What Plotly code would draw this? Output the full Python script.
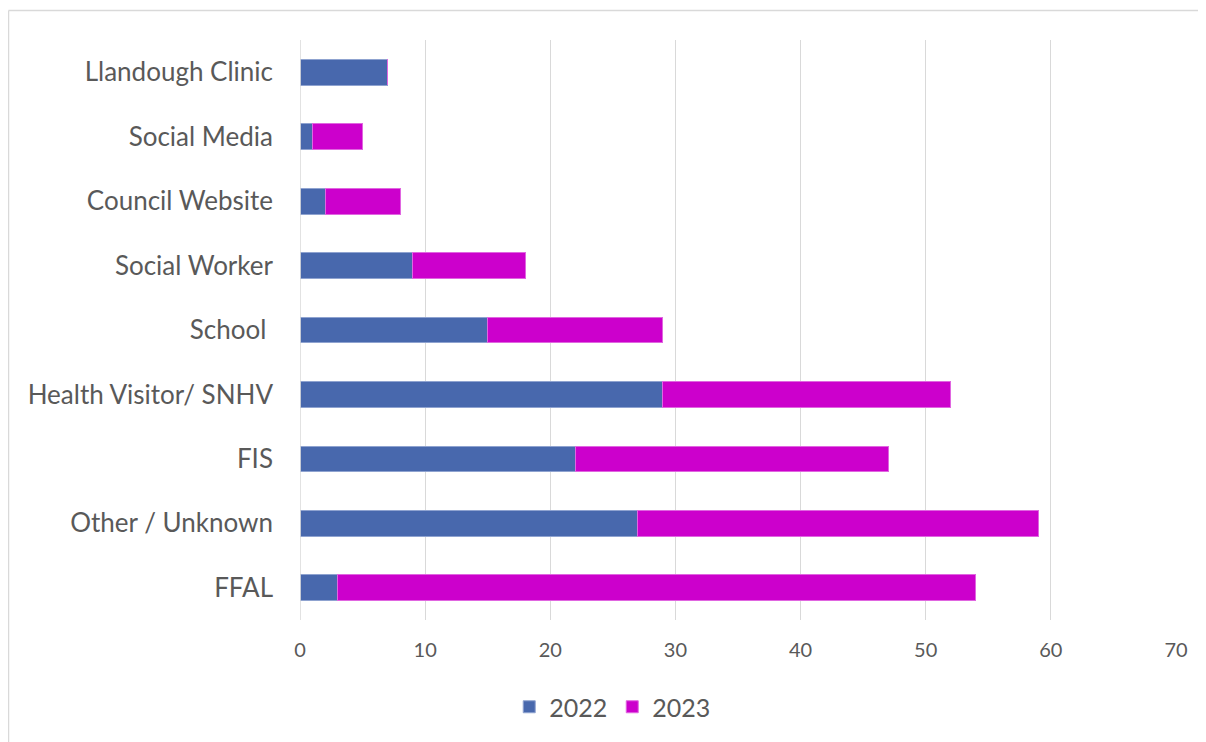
import plotly.graph_objects as go

categories = ["FFAL", "Other / Unknown", "FIS", "Health Visitor/ SNHV", "School\u00a0",
              "Social Worker", "Council Website", "Social Media", "Llandough Clinic"]
values_2022 = [3, 27, 22, 29, 15, 9, 2, 1, 7]
values_2023 = [51, 32, 25, 23, 14, 9, 6, 4, 0]
x_ticks = [0, 10, 20, 30, 40, 50, 60, 70]

fig = go.Figure()
fig.add_trace(go.Bar(y=categories, x=values_2022, orientation="h", name="2022",
                     marker=dict(color="#4868AD", line=dict(color="#8FA3D0", width=1))))
fig.add_trace(go.Bar(y=categories, x=values_2023, orientation="h", name="2023",
                     marker=dict(color="#CC00CC", line=dict(color="#E066E0", width=1))))

# page body has an 8px margin
W, H = 1198, 734
L, R, T, B = 292, 1168, 32, 612

fig.update_layout(
    width=W, height=H,
    barmode="stack", bargap=0.6,
    margin=dict(l=L, r=W - R, t=T, b=H - B),
    plot_bgcolor="white", paper_bgcolor="white",
    font=dict(family="Lato, Open Sans, sans-serif", color="#595959"),
    xaxis=dict(range=[0, 70], tickvals=x_ticks, showgrid=True, gridcolor="#D9D9D9",
               gridwidth=1, zeroline=False, tickfont=dict(size=20), ticks="",
               showline=False, ticklabelstandoff=16),
    yaxis=dict(categoryorder="array", categoryarray=categories, tickfont=dict(size=26),
               ticks="", ticklen=0, showline=False, showgrid=False,
               ticklabelstandoff=26),
    legend=dict(orientation="h", x=0.357, y=-0.15, xanchor="center", yanchor="middle",
                font=dict(size=25), traceorder="normal", itemwidth=30),
    showlegend=True,
)
# axis line at 0
fig.add_shape(type="line", xref="x", yref="paper", x0=0, x1=0, y0=0, y1=1,
              line=dict(color="#D9D9D9", width=1.5))
# chart area border (top and left)
fx0 = (0.5 - L) / (R - L)
fy0 = (B - 2.5) / (B - T)
fig.add_shape(type="line", xref="paper", yref="paper", x0=fx0, x1=1.2, y0=fy0, y1=fy0,
              line=dict(color="#D9D9D9", width=1.5))
fig.add_shape(type="line", xref="paper", yref="paper", x0=fx0, x1=fx0, y0=fy0, y1=-0.3,
              line=dict(color="#D9D9D9", width=1.5))

fig.write_html("out.html")
